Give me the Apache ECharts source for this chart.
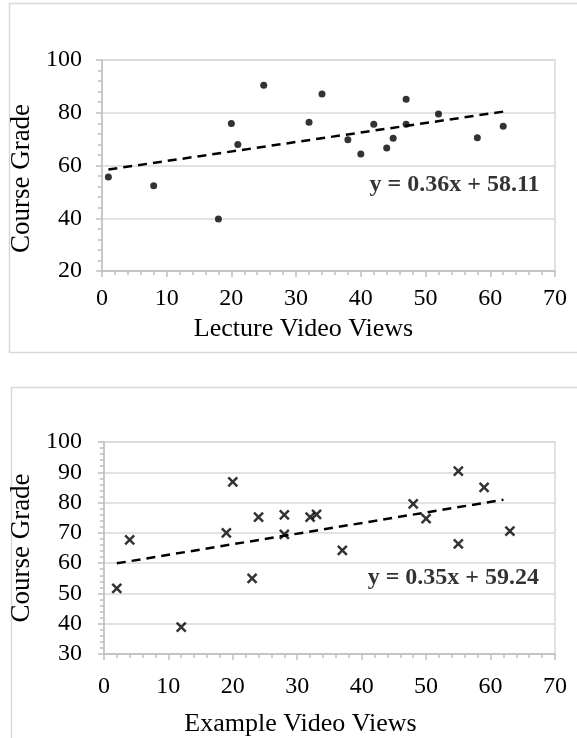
<!DOCTYPE html>
<html>
<head>
<meta charset="utf-8">
<title>Course Grade vs Video Views</title>
<script src="https://cdn.jsdelivr.net/npm/echarts@6/dist/echarts.min.js"></script>
<style>
  html, body { margin: 0; padding: 0; background: #fff; }
  #chart { width: 577px; height: 738px; }
</style>
</head>
<body>
<div id="chart"></div>
<script>
// Lecture video views vs. course grade
const lectureViews  = [1, 8, 18, 20, 21, 25, 32, 34, 38, 40, 42, 44, 45, 47, 47, 52, 58, 62];
const lectureGrades = [55.6, 52.3, 39.7, 75.9, 68.0, 90.4, 76.4, 87.1, 69.8, 64.4, 75.6, 66.6, 70.3, 85.1, 75.6, 79.5, 70.5, 74.9];

// Example video views vs. course grade
const exampleViews  = [2, 4, 12, 19, 20, 23, 24, 28, 28, 32, 33, 37, 48, 50, 55, 55, 59, 63];
const exampleGrades = [51.7, 67.7, 38.9, 70.0, 86.8, 55.0, 75.2, 75.9, 69.5, 75.2, 76.1, 64.2, 79.6, 74.7, 90.4, 66.4, 85.0, 70.6];

// Linear fits: [slope, intercept] and the x span of each trend line
const lectureFit    = [0.36, 58.11];
const lectureFitX   = [1, 62];
const exampleFit    = [0.35, 59.24];
const exampleFitX   = [2, 62];

// Where each equation label is anchored (right-middle), in data units
const lectureEqAt   = [67.7, 52.5];
const exampleEqAt   = [67.6, 55.2];

const FONT = "'Liberation Serif', 'Times New Roman', serif";
const AXIS_GRAY = '#bfbfbf';
const GRID_GRAY = '#d9d9d9';

function pairs(xs, ys) { return xs.map((x, i) => [x, ys[i]]); }
function fitLine(fit, span) { return span.map(x => [x, fit[0] * x + fit[1]]); }
function eqText(fit) { return 'y = ' + fit[0].toFixed(2) + 'x + ' + fit[1].toFixed(2); }

function xAxisCfg(gridIndex, name, labelMargin, nameGap, namePad) {
  return {
    gridIndex, type: 'value', min: 0, max: 70, interval: 10,
    name, nameLocation: 'middle', nameGap,
    nameTextStyle: { fontFamily: FONT, fontSize: 26, color: '#000', padding: namePad },
    axisLine: { show: true, onZero: false, lineStyle: { color: AXIS_GRAY, width: 1.5 } },
    axisTick: { show: true, length: 6, lineStyle: { color: AXIS_GRAY, width: 1.5 } },
    minorTick: { show: true, splitNumber: 5, length: 4, lineStyle: { color: AXIS_GRAY, width: 1.5 } },
    splitLine: { show: false },
    axisLabel: { fontFamily: FONT, fontSize: 24, color: '#000', margin: labelMargin }
  };
}

function yAxisCfg(gridIndex, min, interval, labelMargin, nameGap, namePad) {
  return {
    gridIndex, type: 'value', min, max: 100, interval,
    name: 'Course Grade', nameLocation: 'middle', nameGap,
    nameTextStyle: { fontFamily: FONT, fontSize: 27, color: '#000', padding: namePad },
    axisLine: { show: true, onZero: false, lineStyle: { color: AXIS_GRAY, width: 1.5 } },
    axisTick: { show: true, length: 6, lineStyle: { color: AXIS_GRAY, width: 1.5 } },
    minorTick: { show: true, splitNumber: 5, length: 4, lineStyle: { color: AXIS_GRAY, width: 1.5 } },
    splitLine: { show: true, lineStyle: { color: GRID_GRAY, width: 1.5 } },
    axisLabel: { fontFamily: FONT, fontSize: 24, color: '#000', margin: labelMargin }
  };
}

function trendSeries(idx, fit, span) {
  return {
    type: 'line', xAxisIndex: idx, yAxisIndex: idx,
    data: fitLine(fit, span), symbol: 'none', silent: true,
    lineStyle: { color: '#000', width: 2.5, type: [9, 6] }, z: 3
  };
}

function equationSeries(idx, fit, at) {
  return {
    type: 'scatter', xAxisIndex: idx, yAxisIndex: idx,
    data: [at], symbolSize: 1, itemStyle: { color: 'rgba(0,0,0,0)' }, silent: true,
    label: {
      show: true, position: 'left', distance: 0,
      formatter: () => eqText(fit),
      fontFamily: FONT, fontSize: 24, fontWeight: 'bold', color: '#000'
    }, z: 4
  };
}

const chart = echarts.init(document.getElementById('chart'), null, { renderer: 'canvas' });
chart.setOption({
  animation: false,
  backgroundColor: '#fff',
  graphic: [
    { type: 'rect', shape: { x: 9.5, y: 3.5, width: 620, height: 349 },
      style: { fill: 'none', stroke: GRID_GRAY, lineWidth: 1.5 }, silent: true },
    { type: 'rect', shape: { x: 11.5, y: 387.5, width: 620, height: 400 },
      style: { fill: 'none', stroke: GRID_GRAY, lineWidth: 1.5 }, silent: true }
  ],
  grid: [
    { left: 100, top: 60, right: 22, bottom: 467, show: true, borderColor: GRID_GRAY, borderWidth: 1.5 },
    { left: 94, top: 442, right: 22, bottom: 84, show: true, borderColor: GRID_GRAY, borderWidth: 1.5 }
  ],
  xAxis: [
    xAxisCfg(0, 'Lecture Video Views', 16, 45, [0, 50, 0, 0]),
    xAxisCfg(1, 'Example Video Views', 21, 57, [0, 58, 0, 0])
  ],
  yAxis: [
    yAxisCfg(0, 20, 20, 20, 56, [0, 26, 0, 0]),
    yAxisCfg(1, 30, 10, 22, 52, [0, 0, 0, 0])
  ],
  series: [
    {
      type: 'scatter', xAxisIndex: 0, yAxisIndex: 0,
      data: pairs(lectureViews, lectureGrades),
      symbol: 'circle', symbolSize: 7, itemStyle: { color: '#000' }, z: 5
    },
    trendSeries(0, lectureFit, lectureFitX),
    equationSeries(0, lectureFit, lectureEqAt),
    {
      type: 'scatter', xAxisIndex: 1, yAxisIndex: 1,
      data: pairs(exampleViews, exampleGrades),
      symbol: 'path://M0,0L10,10M10,0L0,10', symbolSize: 9,
      itemStyle: { color: 'rgba(0,0,0,0)', borderColor: '#000', borderWidth: 2.5 }, z: 5
    },
    trendSeries(1, exampleFit, exampleFitX),
    equationSeries(1, exampleFit, exampleEqAt)
  ]
});
</script>
</body>
</html>
